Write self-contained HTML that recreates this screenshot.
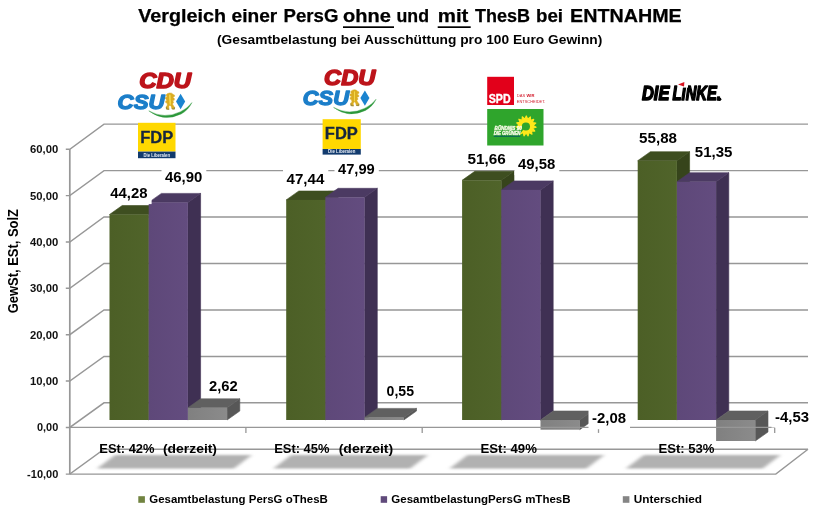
<!DOCTYPE html>
<html lang="de"><head><meta charset="utf-8"><title>Vergleich einer PersG ohne und mit ThesB bei ENTNAHME</title>
<style>
html,body{margin:0;padding:0;background:#fff;}
body{width:820px;height:530px;overflow:hidden;}
svg{display:block;}
svg text{font-family:"Liberation Sans",sans-serif;font-weight:bold;}
</style></head><body>
<svg width="820" height="530" viewBox="0 0 820 530">
<defs>
<linearGradient id="gg" x1="0" x2="1" y1="0" y2="0"><stop offset="0" stop-color="#4c5f26"/><stop offset="1" stop-color="#50642a"/></linearGradient>
<linearGradient id="gp" x1="0" x2="1" y1="0" y2="0"><stop offset="0" stop-color="#5e4879"/><stop offset="1" stop-color="#634c7f"/></linearGradient>
<linearGradient id="gx" x1="0" x2="1" y1="0" y2="0"><stop offset="0" stop-color="#808080"/><stop offset="1" stop-color="#8b8b8b"/></linearGradient>
<filter id="blur" x="-10%" y="-30%" width="120%" height="160%"><feGaussianBlur stdDeviation="2.2 0.8"/></filter>
<filter id="soft" x="-5%" y="-5%" width="110%" height="110%"><feGaussianBlur stdDeviation="0.35"/></filter>
</defs>
<rect width="820" height="530" fill="#fff"/>

<g stroke="#979797" stroke-width="1.45" fill="none">
<path d="M65.8 474.1 H69.8 L104.0 449.2 H808.0"/>
<path d="M65.8 427.4 H69.8 L104.0 402.8 H808.0"/>
<path d="M65.8 381.0 H69.8 L104.0 356.4 H808.0"/>
<path d="M65.8 334.7 H69.8 L104.0 309.9 H808.0"/>
<path d="M65.8 288.3 H69.8 L104.0 263.4 H808.0"/>
<path d="M65.8 242.0 H69.8 L104.0 217.0 H808.0"/>
<path d="M65.8 195.6 H69.8 L104.0 170.6 H808.0"/>
<path d="M65.8 149.3 H69.8 L104.0 124.1 H808.0"/>
<path d="M69.8 149.3 V474.1" stroke-width="1.7"/>
<path d="M69.8 474.1 H775.8 L808.0 449.2"/>
</g>
<g filter="url(#blur)" fill="#b1b1b1">
<polygon points="98.0,468.2 115.0,455.3 251.0,455.3 234.0,468.2" fill="#b1b1b1" stroke="#b1b1b1" stroke-width="0.6" stroke-linejoin="round" />
<polygon points="274.2,468.2 291.2,455.3 427.2,455.3 410.2,468.2" fill="#b1b1b1" stroke="#b1b1b1" stroke-width="0.6" stroke-linejoin="round" />
<polygon points="450.5,468.2 467.5,455.3 603.5,455.3 586.5,468.2" fill="#b1b1b1" stroke="#b1b1b1" stroke-width="0.6" stroke-linejoin="round" />
<polygon points="626.8,468.2 643.8,455.3 779.8,455.3 762.8,468.2" fill="#b1b1b1" stroke="#b1b1b1" stroke-width="0.6" stroke-linejoin="round" />
</g>
<g transform="translate(0.0,0.0) scale(1.000)">
<text x="139.2" y="87.7" font-size="21.5" font-style="italic" fill="#bd141b" stroke="#bd141b" stroke-width="1.5" stroke-linejoin="round" textLength="52" lengthAdjust="spacingAndGlyphs">CDU</text>
<text x="117.6" y="108.8" font-size="20.4" font-style="italic" fill="#1b7ec9" stroke="#1b7ec9" stroke-width="1.3" stroke-linejoin="round" textLength="46.9" lengthAdjust="spacingAndGlyphs">CSU</text>
<path d="M169.6 93 L171.6 93.2 L173.2 94.4 L174.6 95.2 L174.4 96.6 L172.8 97.2 L174.4 98.6 L174.2 100.2 L172.6 100.4 L173.6 102.4 L172.4 104 L173.4 105.6 L174.6 107.4 L174.4 109.2 L172 109 L171.2 106.4 L170 105 L168.8 106.6 L169 109.4 L166.4 109.2 L166.2 107 L167.4 105 L167 103 L165.6 102.4 L165.8 100.8 L167.2 100.4 L165.4 98.8 L165.6 97.2 L167.2 97 L166 95 L167.6 93.6 Z" fill="#dbad24" stroke="#dbad24" stroke-width="0.5" stroke-linejoin="round" filter="url(#soft)"/>
<path d="M169.8 95.4 L170 99.4 L170.4 104" stroke="#f3d74a" stroke-width="1.7" fill="none" stroke-linecap="round" filter="url(#soft)"/>
<path d="M166.4 107.2 L166.6 109 L168.8 109.2 M172.2 108.8 L174.4 109 L174.4 107.6" stroke="#8f8443" stroke-width="0.9" fill="none" stroke-linecap="round"/>
<path d="M180.6 93.7 L185.2 101.4 L180.6 109.2 L176 101.4 Z" fill="#1b84d0"/>
<path d="M148.8 110.9 Q164 122.3 181.2 113.9 Q188.6 109.8 191.9 102.6 Q187.6 108.6 180.2 111.9 Q164.5 119.5 148.8 110.9 Z" fill="#2c983a" stroke="#2c983a" stroke-width="0.4"/>
</g>
<g transform="translate(187.0,-1.8) scale(0.985)">
<text x="139.2" y="87.7" font-size="21.5" font-style="italic" fill="#bd141b" stroke="#bd141b" stroke-width="1.5" stroke-linejoin="round" textLength="52" lengthAdjust="spacingAndGlyphs">CDU</text>
<text x="117.6" y="108.8" font-size="20.4" font-style="italic" fill="#1b7ec9" stroke="#1b7ec9" stroke-width="1.3" stroke-linejoin="round" textLength="46.9" lengthAdjust="spacingAndGlyphs">CSU</text>
<path d="M169.6 93 L171.6 93.2 L173.2 94.4 L174.6 95.2 L174.4 96.6 L172.8 97.2 L174.4 98.6 L174.2 100.2 L172.6 100.4 L173.6 102.4 L172.4 104 L173.4 105.6 L174.6 107.4 L174.4 109.2 L172 109 L171.2 106.4 L170 105 L168.8 106.6 L169 109.4 L166.4 109.2 L166.2 107 L167.4 105 L167 103 L165.6 102.4 L165.8 100.8 L167.2 100.4 L165.4 98.8 L165.6 97.2 L167.2 97 L166 95 L167.6 93.6 Z" fill="#dbad24" stroke="#dbad24" stroke-width="0.5" stroke-linejoin="round" filter="url(#soft)"/>
<path d="M169.8 95.4 L170 99.4 L170.4 104" stroke="#f3d74a" stroke-width="1.7" fill="none" stroke-linecap="round" filter="url(#soft)"/>
<path d="M166.4 107.2 L166.6 109 L168.8 109.2 M172.2 108.8 L174.4 109 L174.4 107.6" stroke="#8f8443" stroke-width="0.9" fill="none" stroke-linecap="round"/>
<path d="M180.6 93.7 L185.2 101.4 L180.6 109.2 L176 101.4 Z" fill="#1b84d0"/>
<path d="M148.8 110.9 Q164 122.3 181.2 113.9 Q188.6 109.8 191.9 102.6 Q187.6 108.6 180.2 111.9 Q164.5 119.5 148.8 110.9 Z" fill="#2c983a" stroke="#2c983a" stroke-width="0.4"/>
</g>
<rect x="138.0" y="122.8" width="37.5" height="28.8" fill="#ffd800"/>
<rect x="138.0" y="151.6" width="37.5" height="6.6" fill="#123b6e"/>
<text x="140.2" y="142.7" font-size="16" fill="#16263f" stroke="#16263f" stroke-width="0.3" textLength="33" lengthAdjust="spacingAndGlyphs">FDP</text>
<text x="143.5" y="156.6" font-size="4.6" fill="#e9eef6" textLength="26.5" lengthAdjust="spacingAndGlyphs">Die Liberalen</text>
<rect x="322.6" y="119.2" width="38.2" height="29.8" fill="#ffd800"/>
<rect x="322.6" y="149.0" width="38.2" height="5.6" fill="#123b6e"/>
<text x="324.8" y="139.1" font-size="16" fill="#16263f" stroke="#16263f" stroke-width="0.3" textLength="33" lengthAdjust="spacingAndGlyphs">FDP</text>
<text x="328.1" y="153.0" font-size="4.6" fill="#e9eef6" textLength="27.2" lengthAdjust="spacingAndGlyphs">Die Liberalen</text>
<rect x="487.2" y="76.8" width="26.8" height="28.2" fill="#e2001a"/>
<text x="488.8" y="103.2" font-size="12.4" fill="#fff" stroke="#fff" stroke-width="0.4" textLength="21.8" lengthAdjust="spacingAndGlyphs">SPD</text>
<text x="516.8" y="97.2" font-size="4.3" fill="#d21a2a" font-weight="normal" textLength="17.6" lengthAdjust="spacingAndGlyphs" style="font-weight:normal">DAS <tspan style="font-weight:bold">WIR</tspan></text>
<text x="516.8" y="103.2" font-size="4.3" fill="#d21a2a" textLength="28.5" lengthAdjust="spacingAndGlyphs" style="font-weight:normal">ENTSCHEIDET.</text>
<rect x="487.2" y="109" width="56.3" height="36.5" fill="#2fa52c"/>
<polygon points="535.8,123.0 533.2,125.4 536.1,127.2 532.8,128.3 534.8,131.1 531.3,130.8 532.0,134.2 529.0,132.4 528.1,135.8 526.1,133.0 524.0,135.8 523.3,132.4 520.2,134.0 520.9,130.6 517.5,130.9 519.5,128.1 516.2,126.9 519.2,125.2 516.7,122.8 520.2,122.4 518.9,119.2 522.2,120.3 522.3,116.8 524.8,119.1 526.3,116.0 527.8,119.2 530.4,116.9 530.4,120.4 533.7,119.4 532.3,122.6" fill="#ffe81a" stroke="#ffe81a" stroke-width="1.2" stroke-linejoin="round"/>
<circle cx="525.9" cy="126.5" r="4.1" fill="#2fa52c"/>
<path d="M525.7 127.0 L515.2 130.5 L517.7 136.5 Z" fill="#2fa52c"/>
<text x="494.6" y="129.9" font-size="5.2" font-style="italic" fill="#f6fae6" stroke="#f6fae6" stroke-width="0.35" textLength="27.2" lengthAdjust="spacingAndGlyphs">BÜNDNIS 90</text>
<text x="493.8" y="134.9" font-size="4.8" font-style="italic" fill="#f6fae6" stroke="#f6fae6" stroke-width="0.35" textLength="26.6" lengthAdjust="spacingAndGlyphs">DIE GRÜNEN</text>
<rect x="493.8" y="135.6" width="26.4" height="1.3" fill="#0c6a55"/>
<g fill="#000" stroke="#000" stroke-width="1.6" stroke-linejoin="round" font-style="italic">
<text x="642" y="100.3" font-size="21" textLength="27.4" lengthAdjust="spacingAndGlyphs">DIE</text>
<text x="672.6" y="100.3" font-size="21" textLength="48.2" lengthAdjust="spacingAndGlyphs">LINKE.</text>
</g>
<rect x="680" y="83" width="8" height="4.6" fill="#fff"/>
<path d="M678 84.4 L684.4 82 L684 86.4 Z" fill="#d8121f"/>
<circle cx="719.6" cy="99.2" r="1.75" fill="#000"/>
<polygon points="148.7,214.5 161.4,205.5 161.4,411.0 148.7,420.0" fill="#36441b" stroke="#36441b" stroke-width="0.6" stroke-linejoin="round" />
<polygon points="109.5,214.5 122.2,205.5 161.4,205.5 148.7,214.5" fill="#3e4e20" stroke="#3e4e20" stroke-width="0.6" stroke-linejoin="round" />
<rect x="109.5" y="214.5" width="39.2" height="205.5" fill="url(#gg)"/>
<polygon points="187.9,202.4 200.6,193.4 200.6,411.0 187.9,420.0" fill="#3f3053" stroke="#3f3053" stroke-width="0.6" stroke-linejoin="round" />
<polygon points="148.7,202.4 161.4,193.4 200.6,193.4 187.9,202.4" fill="#4b3a62" stroke="#4b3a62" stroke-width="0.6" stroke-linejoin="round" />
<rect x="148.7" y="202.4" width="39.2" height="217.6" fill="url(#gp)"/>
<polygon points="227.1,407.8 239.8,398.8 239.8,411.0 227.1,420.0" fill="#575757" stroke="#575757" stroke-width="0.6" stroke-linejoin="round" />
<polygon points="187.9,407.8 200.6,398.8 239.8,398.8 227.1,407.8" fill="#606060" stroke="#606060" stroke-width="0.6" stroke-linejoin="round" />
<rect x="187.9" y="407.8" width="39.2" height="12.2" fill="url(#gx)"/>
<polygon points="325.4,199.9 338.1,190.9 338.1,411.0 325.4,420.0" fill="#36441b" stroke="#36441b" stroke-width="0.6" stroke-linejoin="round" />
<polygon points="286.2,199.9 298.9,190.9 338.1,190.9 325.4,199.9" fill="#3e4e20" stroke="#3e4e20" stroke-width="0.6" stroke-linejoin="round" />
<rect x="286.2" y="199.9" width="39.2" height="220.1" fill="url(#gg)"/>
<polygon points="364.6,197.3 377.3,188.3 377.3,411.0 364.6,420.0" fill="#3f3053" stroke="#3f3053" stroke-width="0.6" stroke-linejoin="round" />
<polygon points="325.4,197.3 338.1,188.3 377.3,188.3 364.6,197.3" fill="#4b3a62" stroke="#4b3a62" stroke-width="0.6" stroke-linejoin="round" />
<rect x="325.4" y="197.3" width="39.2" height="222.7" fill="url(#gp)"/>
<polygon points="403.8,417.4 416.5,408.4 416.5,411.0 403.8,420.0" fill="#575757" stroke="#575757" stroke-width="0.6" stroke-linejoin="round" />
<polygon points="364.6,417.4 377.3,408.4 416.5,408.4 403.8,417.4" fill="#606060" stroke="#606060" stroke-width="0.6" stroke-linejoin="round" />
<rect x="364.6" y="417.4" width="39.2" height="2.6" fill="url(#gx)"/>
<polygon points="501.3,180.3 514.0,171.3 514.0,411.0 501.3,420.0" fill="#36441b" stroke="#36441b" stroke-width="0.6" stroke-linejoin="round" />
<polygon points="462.1,180.3 474.8,171.3 514.0,171.3 501.3,180.3" fill="#3e4e20" stroke="#3e4e20" stroke-width="0.6" stroke-linejoin="round" />
<rect x="462.1" y="180.3" width="39.2" height="239.7" fill="url(#gg)"/>
<polygon points="540.5,189.9 553.2,180.9 553.2,411.0 540.5,420.0" fill="#3f3053" stroke="#3f3053" stroke-width="0.6" stroke-linejoin="round" />
<polygon points="501.3,189.9 514.0,180.9 553.2,180.9 540.5,189.9" fill="#4b3a62" stroke="#4b3a62" stroke-width="0.6" stroke-linejoin="round" />
<rect x="501.3" y="189.9" width="39.2" height="230.1" fill="url(#gp)"/>
<polygon points="579.7,420.0 592.4,411.0 592.4,420.7 579.7,429.7" fill="#575757" stroke="#575757" stroke-width="0.6" stroke-linejoin="round" />
<polygon points="540.5,420.0 553.2,411.0 592.4,411.0 579.7,420.0" fill="#606060" stroke="#606060" stroke-width="0.6" stroke-linejoin="round" />
<rect x="540.5" y="420.0" width="39.2" height="9.7" fill="url(#gx)"/>
<polygon points="676.9,160.7 689.6,151.7 689.6,411.0 676.9,420.0" fill="#36441b" stroke="#36441b" stroke-width="0.6" stroke-linejoin="round" />
<polygon points="637.7,160.7 650.4,151.7 689.6,151.7 676.9,160.7" fill="#3e4e20" stroke="#3e4e20" stroke-width="0.6" stroke-linejoin="round" />
<rect x="637.7" y="160.7" width="39.2" height="259.3" fill="url(#gg)"/>
<polygon points="716.1,181.7 728.8,172.7 728.8,411.0 716.1,420.0" fill="#3f3053" stroke="#3f3053" stroke-width="0.6" stroke-linejoin="round" />
<polygon points="676.9,181.7 689.6,172.7 728.8,172.7 716.1,181.7" fill="#4b3a62" stroke="#4b3a62" stroke-width="0.6" stroke-linejoin="round" />
<rect x="676.9" y="181.7" width="39.2" height="238.3" fill="url(#gp)"/>
<polygon points="755.3,420.0 768.0,411.0 768.0,432.0 755.3,441.0" fill="#575757" stroke="#575757" stroke-width="0.6" stroke-linejoin="round" />
<polygon points="716.1,420.0 728.8,411.0 768.0,411.0 755.3,420.0" fill="#606060" stroke="#606060" stroke-width="0.6" stroke-linejoin="round" />
<rect x="716.1" y="420.0" width="39.2" height="21.0" fill="url(#gx)"/>
<g stroke="#979797" stroke-width="1.3" fill="none">
<path d="M69.8 427.4 H775.0"/>
<path d="M245.9 427.4 V432.9"/>
<path d="M422.2 427.4 V432.9"/>
<path d="M598.5 427.4 V432.9"/>
<path d="M774.7 427.4 V432.9"/>
</g>
<rect x="106.8" y="182.8" width="44.8" height="21.3" fill="#fff"/>
<text x="110.3" y="198.3" font-size="14.4" text-anchor="start" fill="#000" textLength="37.3" lengthAdjust="spacingAndGlyphs" >44,28</text>
<rect x="161.5" y="166.9" width="44.8" height="21.3" fill="#fff"/>
<text x="165.0" y="182.4" font-size="14.4" text-anchor="start" fill="#000" textLength="37.3" lengthAdjust="spacingAndGlyphs" >46,90</text>
<rect x="205.5" y="375.5" width="36.2" height="21.3" fill="#fff"/>
<text x="209.0" y="391.0" font-size="14.4" text-anchor="start" fill="#000" textLength="28.7" lengthAdjust="spacingAndGlyphs" >2,62</text>
<rect x="283.0" y="168.9" width="45.3" height="21.3" fill="#fff"/>
<text x="286.5" y="184.4" font-size="14.4" text-anchor="start" fill="#000" textLength="37.8" lengthAdjust="spacingAndGlyphs" >47,44</text>
<rect x="334.5" y="158.3" width="44.3" height="21.3" fill="#fff"/>
<text x="338.0" y="173.8" font-size="14.4" text-anchor="start" fill="#000" textLength="36.8" lengthAdjust="spacingAndGlyphs" >47,99</text>
<rect x="383.1" y="380.5" width="34.9" height="21.3" fill="#fff"/>
<text x="386.6" y="396.0" font-size="14.4" text-anchor="start" fill="#000" textLength="27.4" lengthAdjust="spacingAndGlyphs" >0,55</text>
<rect x="464.0" y="148.5" width="45.8" height="21.3" fill="#fff"/>
<text x="467.5" y="164.0" font-size="14.4" text-anchor="start" fill="#000" textLength="38.3" lengthAdjust="spacingAndGlyphs" >51,66</text>
<rect x="514.5" y="153.8" width="44.8" height="21.3" fill="#fff"/>
<text x="518.0" y="169.3" font-size="14.4" text-anchor="start" fill="#000" textLength="37.3" lengthAdjust="spacingAndGlyphs" >49,58</text>
<rect x="588.5" y="407.9" width="41.5" height="21.3" fill="#fff"/>
<text x="592.0" y="423.4" font-size="14.4" text-anchor="start" fill="#000" textLength="34.0" lengthAdjust="spacingAndGlyphs" >-2,08</text>
<rect x="635.6" y="127.1" width="45.4" height="21.3" fill="#fff"/>
<text x="639.1" y="142.6" font-size="14.4" text-anchor="start" fill="#000" textLength="37.9" lengthAdjust="spacingAndGlyphs" >55,88</text>
<rect x="691.3" y="141.1" width="45.1" height="21.3" fill="#fff"/>
<text x="694.8" y="156.6" font-size="14.4" text-anchor="start" fill="#000" textLength="37.6" lengthAdjust="spacingAndGlyphs" >51,35</text>
<rect x="771.5" y="406.2" width="41.5" height="21.3" fill="#fff"/>
<text x="775.0" y="421.7" font-size="14.4" text-anchor="start" fill="#000" textLength="34.0" lengthAdjust="spacingAndGlyphs" >-4,53</text>
<g>
<text x="138.3" y="22.4" font-size="18.2" text-anchor="start" fill="#000" textLength="87.7" lengthAdjust="spacingAndGlyphs" stroke="#000" stroke-width="0.25">Vergleich</text>
<text x="231.6" y="22.4" font-size="18.2" text-anchor="start" fill="#000" textLength="45.7" lengthAdjust="spacingAndGlyphs" stroke="#000" stroke-width="0.25">einer</text>
<text x="283.6" y="22.4" font-size="18.2" text-anchor="start" fill="#000" textLength="54.8" lengthAdjust="spacingAndGlyphs" stroke="#000" stroke-width="0.25">PersG</text>
<text x="343.0" y="22.4" font-size="18.2" text-anchor="start" fill="#000" textLength="47.8" lengthAdjust="spacingAndGlyphs" stroke="#000" stroke-width="0.25">ohne</text>
<text x="396.5" y="22.4" font-size="18.2" text-anchor="start" fill="#000" textLength="32.5" lengthAdjust="spacingAndGlyphs" stroke="#000" stroke-width="0.25">und</text>
<text x="437.7" y="22.4" font-size="18.2" text-anchor="start" fill="#000" textLength="30.7" lengthAdjust="spacingAndGlyphs" stroke="#000" stroke-width="0.25">mit</text>
<text x="475.0" y="22.4" font-size="18.2" text-anchor="start" fill="#000" textLength="55.0" lengthAdjust="spacingAndGlyphs" stroke="#000" stroke-width="0.25">ThesB</text>
<text x="536.0" y="22.4" font-size="18.2" text-anchor="start" fill="#000" textLength="27.0" lengthAdjust="spacingAndGlyphs" stroke="#000" stroke-width="0.25">bei</text>
<text x="570.0" y="22.4" font-size="18.2" text-anchor="start" fill="#000" textLength="111.7" lengthAdjust="spacingAndGlyphs" stroke="#000" stroke-width="0.25">ENTNAHME</text>
<rect x="343" y="26.3" width="51" height="1.7" fill="#000"/><rect x="437.7" y="26.3" width="33" height="1.7" fill="#000"/>
</g>
<text x="217.0" y="43.7" font-size="13.5" text-anchor="start" fill="#000" textLength="385.3" lengthAdjust="spacingAndGlyphs" >(Gesamtbelastung bei Ausschüttung pro 100 Euro Gewinn)</text>
<text x="27.1" y="478.0" font-size="10.4" text-anchor="start" fill="#111" textLength="31.2" lengthAdjust="spacingAndGlyphs" >-10,00</text>
<text x="37.0" y="431.3" font-size="10.4" text-anchor="start" fill="#111" textLength="21.3" lengthAdjust="spacingAndGlyphs" >0,00</text>
<text x="30.1" y="384.9" font-size="10.4" text-anchor="start" fill="#111" textLength="28.2" lengthAdjust="spacingAndGlyphs" >10,00</text>
<text x="30.1" y="338.6" font-size="10.4" text-anchor="start" fill="#111" textLength="28.2" lengthAdjust="spacingAndGlyphs" >20,00</text>
<text x="30.1" y="292.2" font-size="10.4" text-anchor="start" fill="#111" textLength="28.2" lengthAdjust="spacingAndGlyphs" >30,00</text>
<text x="30.1" y="245.9" font-size="10.4" text-anchor="start" fill="#111" textLength="28.2" lengthAdjust="spacingAndGlyphs" >40,00</text>
<text x="30.1" y="199.5" font-size="10.4" text-anchor="start" fill="#111" textLength="28.2" lengthAdjust="spacingAndGlyphs" >50,00</text>
<text x="30.1" y="153.2" font-size="10.4" text-anchor="start" fill="#111" textLength="28.2" lengthAdjust="spacingAndGlyphs" >60,00</text>
<text transform="translate(18.0,313.2) rotate(-90)" font-size="14.8" fill="#000" textLength="104.2" lengthAdjust="spacingAndGlyphs">GewSt, ESt, SolZ</text>
<text x="99.3" y="453.0" font-size="13.4" text-anchor="start" fill="#000" textLength="55.2" lengthAdjust="spacingAndGlyphs" >ESt: 42%</text>
<text x="163.0" y="453.0" font-size="13.4" text-anchor="start" fill="#000" textLength="54.0" lengthAdjust="spacingAndGlyphs" >(derzeit)</text>
<text x="274.2" y="453.0" font-size="13.4" text-anchor="start" fill="#000" textLength="55.2" lengthAdjust="spacingAndGlyphs" >ESt: 45%</text>
<text x="338.7" y="453.0" font-size="13.4" text-anchor="start" fill="#000" textLength="54.5" lengthAdjust="spacingAndGlyphs" >(derzeit)</text>
<text x="480.5" y="452.6" font-size="13.4" text-anchor="start" fill="#000" textLength="56.4" lengthAdjust="spacingAndGlyphs" >ESt: 49%</text>
<text x="658.5" y="452.6" font-size="13.4" text-anchor="start" fill="#000" textLength="56.0" lengthAdjust="spacingAndGlyphs" >ESt: 53%</text>
<rect x="138.3" y="496.2" width="6.6" height="6.6" fill="#718340"/>
<text x="149.3" y="502.7" font-size="11.8" text-anchor="start" fill="#000" textLength="178.5" lengthAdjust="spacingAndGlyphs" >Gesamtbelastung PersG oThesB</text>
<rect x="380.7" y="496.2" width="6.4" height="6.6" fill="#604a7b"/>
<text x="391.3" y="502.7" font-size="11.8" text-anchor="start" fill="#000" textLength="179.3" lengthAdjust="spacingAndGlyphs" >GesamtbelastungPersG mThesB</text>
<rect x="622.8" y="496.2" width="6.6" height="6.6" fill="#858585"/>
<text x="633.8" y="502.7" font-size="11.8" text-anchor="start" fill="#000" textLength="68.2" lengthAdjust="spacingAndGlyphs" >Unterschied</text>
</svg></body></html>
